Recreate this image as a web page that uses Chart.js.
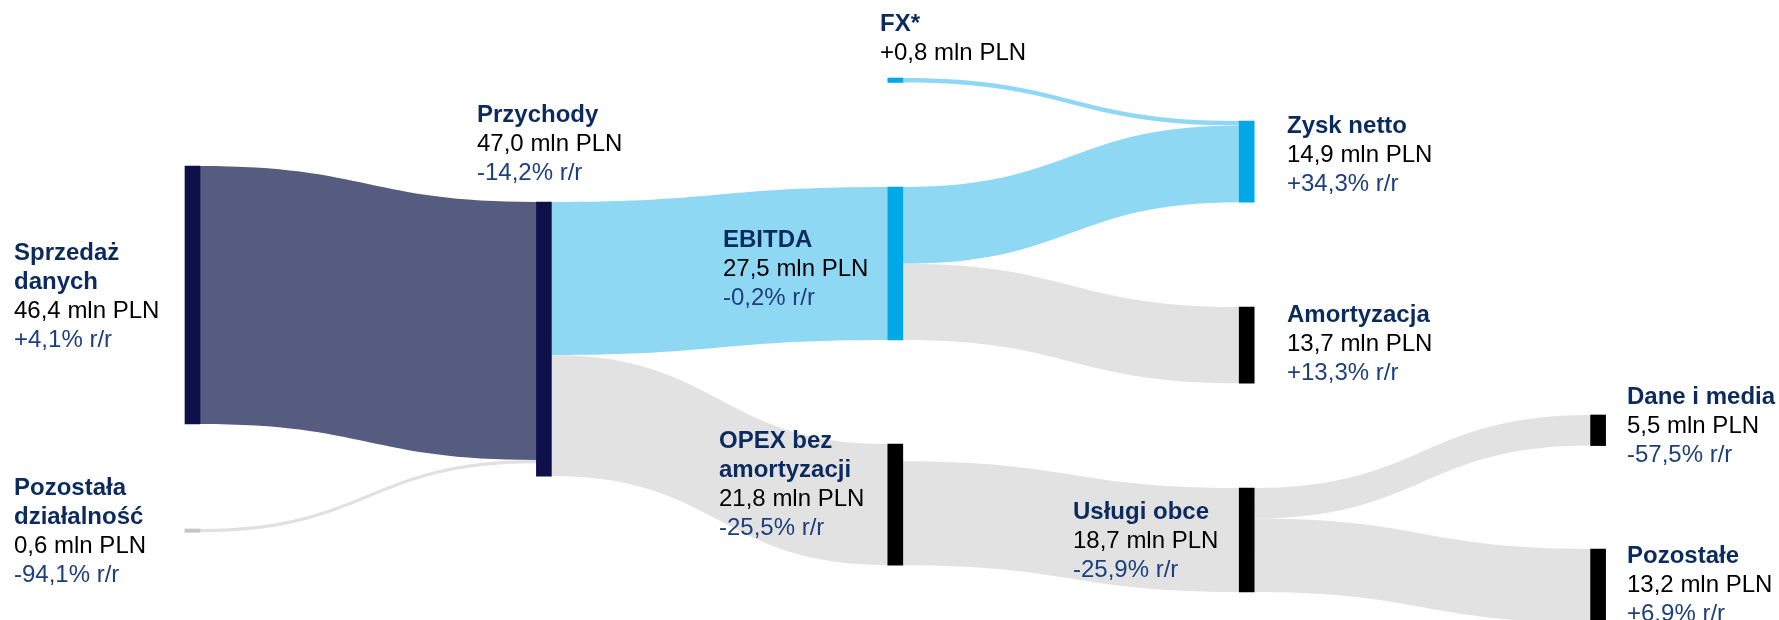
<!DOCTYPE html>
<html lang="pl">
<head>
<meta charset="utf-8">
<title>Sankey – wyniki</title>
<script src="https://cdn.jsdelivr.net/npm/chart.js@4/dist/chart.umd.min.js"></script>
<style>
    html, body { margin: 0; padding: 0; background: #fff; overflow: hidden; }
    canvas { display: block; }
</style>
</head>
<body>
<canvas id="sankeyChart" width="1779" height="620"></canvas>
<script>
// data (mln PLN)
const nodeNames = ['Sprzedaż\ndanych', 'Pozostała\ndziałalność', 'Przychody', 'FX*', 'EBITDA',
    'OPEX bez\namortyzacji', 'Zysk netto', 'Amortyzacja', 'Usługi obce', 'Dane i media', 'Pozostałe'];
const nodeValues = [46.4, 0.6, 47.0, 0.8, 27.5, 21.8, 14.9, 13.7, 18.7, 5.5, 13.2];
const nodeChanges = ['+4,1% r/r', '-94,1% r/r', '-14,2% r/r', null, '-0,2% r/r',
    '-25,5% r/r', '+34,3% r/r', '+13,3% r/r', '-25,9% r/r', '-57,5% r/r', '+6,9% r/r'];

const linkSource = [0, 1, 2, 2, 3, 4, 4, 5, 8, 8];
const linkTarget = [2, 2, 4, 5, 6, 6, 7, 8, 9, 10];
const linkValues = [46.4, 0.6, 27.5, 21.8, 0.8, 13.8, 13.7, 18.7, 5.5, 13.2];

// layout
const nodeColumn = [0, 0, 1, 2, 2, 2, 3, 3, 3, 4, 4];
const nodeTop = [29.86, 95.14, 36.33, 14.03, 33.63, 79.86, 21.76, 55.22, 87.77, 74.64, 98.74];
const outBottom = [5]; // OPEX: outflow sits at the bottom of the node
const nodeWidth = 15;

const NAVY = '#0d1049';
const BLUE = '#00a9e6';
const nodeColors = [NAVY, '#c6c6c6', NAVY, BLUE, BLUE, '#000000', BLUE, '#000000', '#000000', '#000000', '#000000'];
const linkColors = ['#565b80', '#e0e0e0', '#8fd8f4', '#e2e2e2', '#8fd8f4', '#8fd8f4',
    '#e2e2e2', '#e2e2e2', '#e2e2e2', '#e2e2e2'];

// label anchors: left x and baseline of first line, in pixels
const labelX = [14, 14, 477, 880, 723, 719, 1287, 1287, 1073, 1627, 1627];
const labelY = [260, 495, 122, 31, 247, 448, 133, 322, 519, 404, 563];
const lineHeight = 29;

// node heights = max(in, out)
const nodeHeight = nodeNames.map((_, i) => {
    let inSum = 0, outSum = 0;
    linkValues.forEach((v, k) => {
        if (linkTarget[k] === i) inSum += v;
        if (linkSource[k] === i) outSum += v;
    });
    return Math.max(inSum, outSum);
});

// stacking offsets of each link at both ends
const linkOut = [], linkIn = [];
nodeNames.forEach((_, i) => {
    let outSum = 0;
    linkValues.forEach((v, k) => { if (linkSource[k] === i) outSum += v; });
    let outPos = outBottom.includes(i) ? nodeHeight[i] - outSum : 0;
    let inPos = 0;
    linkValues.forEach((v, k) => {
        if (linkSource[k] === i) { linkOut[k] = nodeTop[i] + outPos; outPos += v; }
        if (linkTarget[k] === i) { linkIn[k] = nodeTop[i] + inPos; inPos += v; }
    });
});

const fmt = v => v.toFixed(1).replace('.', ',');

const flowPlugin = {
    id: 'flows',
    beforeDatasetsDraw(chart) {
        const { ctx, scales: { x, y } } = chart;
        ctx.save();
        linkValues.forEach((v, k) => {
            const x0 = x.getPixelForValue(nodeColumn[linkSource[k]]) + nodeWidth / 2;
            const x1 = x.getPixelForValue(nodeColumn[linkTarget[k]]) - nodeWidth / 2;
            const xm = (x0 + x1) / 2;
            const a0 = y.getPixelForValue(linkOut[k]);
            const b0 = y.getPixelForValue(linkOut[k] + v);
            const a1 = y.getPixelForValue(linkIn[k]);
            const b1 = y.getPixelForValue(linkIn[k] + v);
            ctx.beginPath();
            ctx.moveTo(x0, a0);
            ctx.bezierCurveTo(xm, a0, xm, a1, x1, a1);
            ctx.lineTo(x1, b1);
            ctx.bezierCurveTo(xm, b1, xm, b0, x0, b0);
            ctx.closePath();
            ctx.fillStyle = linkColors[k];
            ctx.fill();
        });
        ctx.restore();
    }
};

const labelPlugin = {
    id: 'nodeLabels',
    afterDatasetsDraw(chart) {
        const ctx = chart.ctx;
        ctx.save();
        ctx.textAlign = 'left';
        ctx.textBaseline = 'alphabetic';
        nodeNames.forEach((name, i) => {
            let yy = labelY[i];
            ctx.font = 'bold 24px "Liberation Sans", Arial, sans-serif';
            ctx.fillStyle = '#0b2a5e';
            name.split('\n').forEach(line => {
                ctx.fillText(line, labelX[i], yy);
                yy += lineHeight;
            });
            ctx.font = '24px "Liberation Sans", Arial, sans-serif';
            ctx.fillStyle = '#000000';
            const sign = nodeChanges[i] === null ? '+' : '';
            ctx.fillText(sign + fmt(nodeValues[i]) + ' mln PLN', labelX[i], yy);
            yy += lineHeight;
            if (nodeChanges[i] !== null) {
                ctx.fillStyle = '#1d3f7e';
                ctx.fillText(nodeChanges[i], labelX[i], yy);
            }
        });
        ctx.restore();
    }
};

const ctx = document.getElementById('sankeyChart').getContext('2d');

new Chart(ctx, {
    type: 'bar',
    data: {
        datasets: [{
            label: 'Węzły',
            data: nodeNames.map((_, i) => ({ x: nodeColumn[i], y: [nodeTop[i], nodeTop[i] + nodeHeight[i]] })),
            backgroundColor: nodeColors,
            borderWidth: 0,
            barThickness: nodeWidth
        }]
    },
    options: {
        responsive: false,
        devicePixelRatio: 1,
        animation: false,
        layout: { padding: 0 },
        plugins: {
            legend: { display: false },
            tooltip: { enabled: false }
        },
        scales: {
            x: {
                type: 'linear',
                min: -192.5 / 351.4,
                max: (1779 - 192.5) / 351.4,
                offset: false,
                display: false
            },
            y: {
                type: 'linear',
                min: 0,
                max: 620 / 5.56,
                reverse: true,
                display: false
            }
        }
    },
    plugins: [flowPlugin, labelPlugin]
});
</script>
</body>
</html>
